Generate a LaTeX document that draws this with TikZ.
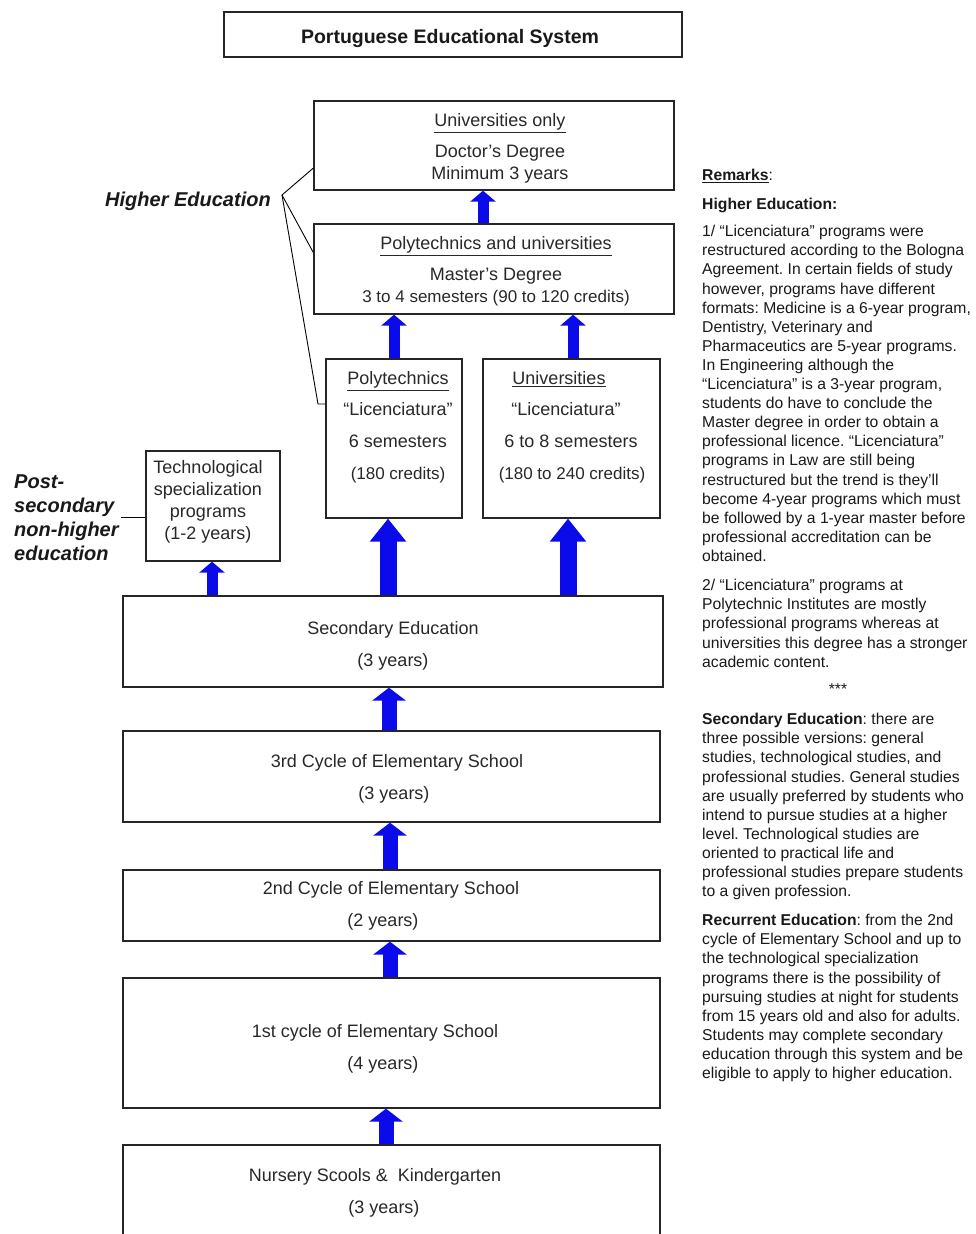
\documentclass[tikz,border=0pt]{standalone}
\usepackage{fontspec}
\setmainfont{Liberation Sans}
\usetikzlibrary{arrows.meta,calc}
\frenchspacing
\newcommand\myul[1]{\leavevmode\vtop{\hbox{#1}\kern1.6pt\hrule height 1.2pt}}
\definecolor{arrblue}{RGB}{10,10,235}
\definecolor{txtgray}{RGB}{40,40,40}
\begin{document}
\begin{tikzpicture}[x=1pt,y=-1pt,
  box/.style={draw=black!85, line width=1.3pt, fill=white, inner sep=0},
  bt/.style={font=\fontsize{18}{20}\selectfont, text=txtgray, inner sep=0, anchor=base},
  btn/.style={bt, font=\fontsize{17}{20}\selectfont},
  rem/.style={font=\fontsize{15.7}{19}\selectfont, text=black!90, inner sep=0, anchor=base west},
  lab/.style={font=\fontsize{20}{24}\selectfont\bfseries\itshape, text=black!90, inner sep=0, anchor=base west},
  bracket/.style={draw=black, line width=0.9pt},
  smallarr/.style={draw=arrblue, line width=11pt, -{Triangle[length=11pt 0 0, width=25pt 0 0]}},
  medarr/.style={draw=arrblue, line width=15pt, -{Triangle[length=13pt 0 0, width=33pt 0 0]}},
  bigarr/.style={draw=arrblue, line width=17pt, -{Triangle[length=23pt 0 0, width=35pt 0 0]}}]
\fill[white] (0,0) rectangle (976,1234);
\useasboundingbox (0,0) rectangle (976,1234);
\clip (0,0) rectangle (976,1234);

% title
\node[box, minimum width=458pt, minimum height=45pt] (title) at (453,34.5) {};
\node[inner sep=0, anchor=base, font=\fontsize{19.5}{22}\selectfont\bfseries, text=black!90] (titlet) at (450,43) {Portuguese Educational System};

% boxes
\node[box, minimum width=360pt, minimum height=89pt] (doc) at (494,145.5) {};
\node[box, minimum width=360pt, minimum height=90pt] (mas) at (494,269) {};
\node[box, minimum width=136pt, minimum height=159pt] (poly) at (394,438.5) {};
\node[box, minimum width=177pt, minimum height=159pt] (univ) at (571.5,438.5) {};
\node[box, minimum width=134pt, minimum height=110pt] (tech) at (213,506) {};
\node[box, minimum width=540pt, minimum height=91pt] (sec) at (393,641.5) {};
\node[box, minimum width=537pt, minimum height=91pt] (c3) at (391.5,776.5) {};
\node[box, minimum width=537pt, minimum height=71pt] (c2) at (391.5,905.5) {};
\node[box, minimum width=537pt, minimum height=130pt] (c1) at (391.5,1043) {};
\node[box, minimum width=537pt, minimum height=115pt] (nur) at (391.5,1202.5) {};

% box texts
\node[bt] (doc1) at (500,126.5) {\myul{Universities only}};
\node[bt] (doc2) at (500,157.5) {Doctor's Degree};
\node[bt] (doc3) at (500,179.5) {Minimum 3 years};
\node[bt] (mas1) at (496,249.5) {\myul{Polytechnics and universities}};
\node[bt] (mas2) at (496,280.5) {Master's Degree};
\node[btn] (mas3) at (496,302.5) {3 to 4 semesters (90 to 120 credits)};
\node[bt] (poly1) at (398,384.5) {\myul{Polytechnics}};
\node[bt] (poly2) at (398,415.5) {“Licenciatura”};
\node[bt] (poly3) at (398,447.5) {6 semesters};
\node[btn] (poly4) at (398,479.5) {(180 credits)};
\node[bt] (univ1) at (559,384.5) {\myul{Universities}};
\node[bt] (univ2) at (566,415.5) {“Licenciatura”};
\node[bt] (univ3) at (571,447.5) {6 to 8 semesters};
\node[btn] (univ4) at (572,479.5) {(180 to 240 credits)};
\node[bt] (tech1) at (208,473.5) {Technological};
\node[bt] (tech2) at (208,495.5) {specialization};
\node[bt] (tech3) at (208,517.5) {programs};
\node[bt] (tech4) at (208,539.5) {(1-2 years)};
\node[bt] (sec1) at (393,634.5) {Secondary Education};
\node[bt] (sec2) at (393,666.5) {(3 years)};
\node[bt] (c31) at (397,767.5) {3rd Cycle of Elementary School};
\node[bt] (c32) at (394,799.5) {(3 years)};
\node[bt] (c21) at (391,894.5) {2nd Cycle of Elementary School};
\node[bt] (c22) at (383,926.5) {(2 years)};
\node[bt] (c11) at (375,1037.5) {1st cycle of Elementary School};
\node[bt] (c12) at (383,1069.5) {(4 years)};
\node[bt] (nur1) at (375,1181.5) {Nursery Scools \&\ \ Kindergarten};
\node[bt] (nur2) at (384,1213.5) {(3 years)};

% arrows
\draw[smallarr] (mas.north -| 483,0) -- (doc.south -| 483,0);
\draw[smallarr] (poly.north -| 394,0) -- (mas.south -| 394,0);
\draw[smallarr] (univ.north -| 573,0) -- (mas.south -| 573,0);
\draw[bigarr] (sec.north -| 388,0) -- (poly.south -| 388,0);
\draw[bigarr] (sec.north -| 568,0) -- (univ.south -| 568,0);
\draw[smallarr] (sec.north -| 212,0) -- (tech.south -| 212,0);
\draw[medarr] (c3.north -| 389,0) -- (sec.south -| 389,0);
\draw[medarr] (c2.north -| 390,0) -- (c3.south -| 390,0);
\draw[medarr] (c1.north -| 390,0) -- (c2.south -| 390,0);
\draw[medarr] (nur.north -| 386,0) -- (c1.south -| 386,0);

% left labels
\node[lab] (hel) at (105,206) {Higher Education};
\coordinate (hv) at (282,195);
\coordinate (hk) at (318,404);
\draw[bracket] ($(doc.north west)!0.75!(doc.south west)$) -- (hv) -- ($(mas.north west)!0.32!(mas.south west)$);
\draw[bracket] (hv) -- (hk) -- (poly.west |- hk);
\node[lab] (ps1) at (14,488) {Post-};
\node[lab] (ps2) at (14,512) {secondary};
\node[lab] (ps3) at (14,536) {non-higher};
\node[lab] (ps4) at (14,560) {education};
\coordinate (pl) at (121,517);
\draw[bracket] (pl) -- (tech.west |- pl);

% remarks
\node[rem] (rmk) at (702,180) {\myul{\bfseries Remarks}:};
\node[rem] (rhe) at (702,209) {\bfseries Higher Education:};
\foreach \t [count=\i from 0] in {%
 {1/ “Licenciatura” programs were},
 {restructured according to the Bologna},
 {Agreement. In certain fields of study},
 {however, programs have different},
 {formats: Medicine is a 6-year program,},
 {Dentistry, Veterinary and},
 {Pharmaceutics are 5-year programs.},
 {In Engineering although the},
 {“Licenciatura” is a 3-year program,},
 {students do have to conclude the},
 {Master degree in order to obtain a},
 {professional licence. “Licenciatura”},
 {programs in Law are still being},
 {restructured but the trend is they'll},
 {become 4-year programs which must},
 {be followed by a 1-year master before},
 {professional accreditation can be},
 {obtained.}}
 \node[rem] (ra\i) at (702,236.7+19.1*\i) {\t};
\foreach \t [count=\i from 0] in {%
 {2/ “Licenciatura” programs at},
 {Polytechnic Institutes are mostly},
 {professional programs whereas at},
 {universities this degree has a stronger},
 {academic content.}}
 \node[rem] (rb\i) at (702,590.7+19.1*\i) {\t};
\node[rem, anchor=base] (stars) at (838,694) {***};
\foreach \t [count=\i from 0] in {%
 {\textbf{Secondary Education}: there are},
 {three possible versions: general},
 {studies, technological studies, and},
 {professional studies. General studies},
 {are usually preferred by students who},
 {intend to pursue studies at a higher},
 {level. Technological studies are},
 {oriented to practical life and},
 {professional studies prepare students},
 {to a given profession.}}
 \node[rem] (rc\i) at (702,724.7+19.1*\i) {\t};
\foreach \t [count=\i from 0] in {%
 {\textbf{Recurrent Education}: from the 2nd},
 {cycle of Elementary School and up to},
 {the technological specialization},
 {programs there is the possibility of},
 {pursuing studies at night for students},
 {from 15 years old and also for adults.},
 {Students may complete secondary},
 {education through this system and be},
 {eligible to apply to higher education.}}
 \node[rem] (rd\i) at (702,925.7+19.1*\i) {\t};
\end{tikzpicture}
\end{document}
